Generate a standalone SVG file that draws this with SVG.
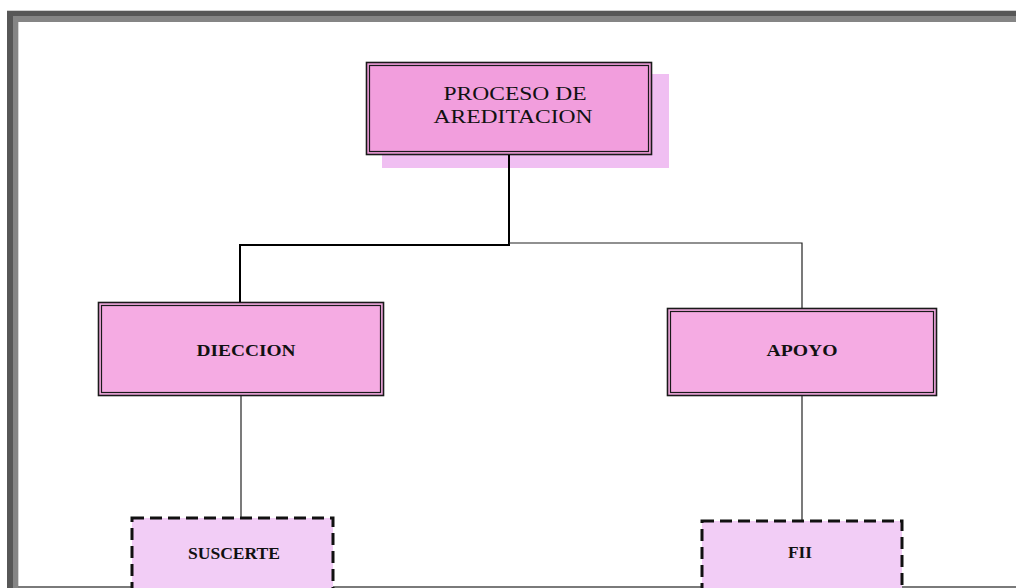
<svg xmlns="http://www.w3.org/2000/svg" width="1016" height="588" viewBox="0 0 1016 588">
  <style>
    .frame-dark { fill: #575757; }
    .frame-light { fill: #858585; }
    .box-outer { fill: #f5abe3; stroke: #1a1a1a; stroke-width: 1.6; }
    .box-inner { fill: none; stroke: #1a1a1a; stroke-width: 1.2; }
    .top-fill { fill: #f29edd; }
    .shadow { fill: #f0bff2; }
    .dashed { fill: #f2cdf6; stroke: #111; stroke-width: 3; stroke-dasharray: 12 6; }
    .t-reg { font-family: "Liberation Serif", "Times New Roman", serif; font-size: 18px; fill: #111; }
    .t-bold { font-family: "Liberation Serif", "Times New Roman", serif; font-size: 16px; font-weight: bold; fill: #111; }
    .thick { stroke: #000; stroke-width: 2; fill: none; }
    .thin { stroke: #222; stroke-width: 1.2; fill: none; }
  </style>

  <rect width="1016" height="588" fill="#ffffff"/>

  <!-- page frame -->
  <g id="frame">
    <rect x="7" y="10" width="1009" height="1" fill="#cfcfcf"/>
    <rect class="frame-dark" x="7" y="11" width="1009" height="5"/>
    <rect class="frame-light" x="13" y="16" width="1003" height="6"/>
    <rect class="frame-dark" x="7" y="11" width="6" height="577"/>
    <rect class="frame-light" x="13" y="16" width="5" height="572"/>
    <rect x="18" y="22" width="1" height="564" fill="#d6d6d6"/>
    <rect x="18" y="586" width="998" height="2" fill="#7a7a7a"/>
  </g>

  <!-- root node -->
  <g id="node-proceso">
    <rect class="shadow" x="382" y="74" width="287" height="94"/>
    <rect class="box-outer top-fill" x="366.5" y="62.5" width="285" height="92"/>
    <rect class="box-inner" x="369.5" y="65.5" width="279" height="86"/>
    <text class="t-reg" x="515" y="100" text-anchor="middle" textLength="143" lengthAdjust="spacingAndGlyphs">PROCESO DE</text>
    <text class="t-reg" x="513" y="123" text-anchor="middle" textLength="159" lengthAdjust="spacingAndGlyphs">AREDITACION</text>
  </g>

  <!-- DIECCION -->
  <g id="node-dieccion">
    <rect class="box-outer" x="98.5" y="302.5" width="285" height="93"/>
    <rect class="box-inner" x="101.5" y="305.5" width="279" height="87"/>
    <text class="t-bold" x="246" y="356" text-anchor="middle" textLength="99" lengthAdjust="spacingAndGlyphs">DIECCION</text>
  </g>

  <!-- APOYO -->
  <g id="node-apoyo">
    <rect class="box-outer" x="667.5" y="308.5" width="269" height="87"/>
    <rect class="box-inner" x="670.5" y="311.5" width="263" height="81"/>
    <text class="t-bold" x="802" y="356" text-anchor="middle" textLength="71" lengthAdjust="spacingAndGlyphs">APOYO</text>
  </g>

  <!-- SUSCERTE -->
  <g id="node-suscerte">
    <rect class="dashed" x="132" y="518" width="201" height="80"/>
    <text class="t-bold" x="234" y="559" text-anchor="middle" textLength="92" lengthAdjust="spacingAndGlyphs">SUSCERTE</text>
  </g>

  <!-- FII -->
  <g id="node-fii">
    <rect class="dashed" x="702" y="521" width="200" height="80"/>
    <text class="t-bold" x="800" y="558" text-anchor="middle" textLength="24" lengthAdjust="spacingAndGlyphs">FII</text>
  </g>

  <!-- connectors, drawn over the root shadow -->
  <g id="connectors">
    <polyline class="thick" points="509,155 509,245 240,245 240,302"/>
    <polyline class="thin" points="509,243 802,243 802,308"/>
    <line class="thin" x1="241" y1="396" x2="241" y2="517"/>
    <line class="thin" x1="802" y1="396" x2="802" y2="520"/>
  </g>
</svg>
